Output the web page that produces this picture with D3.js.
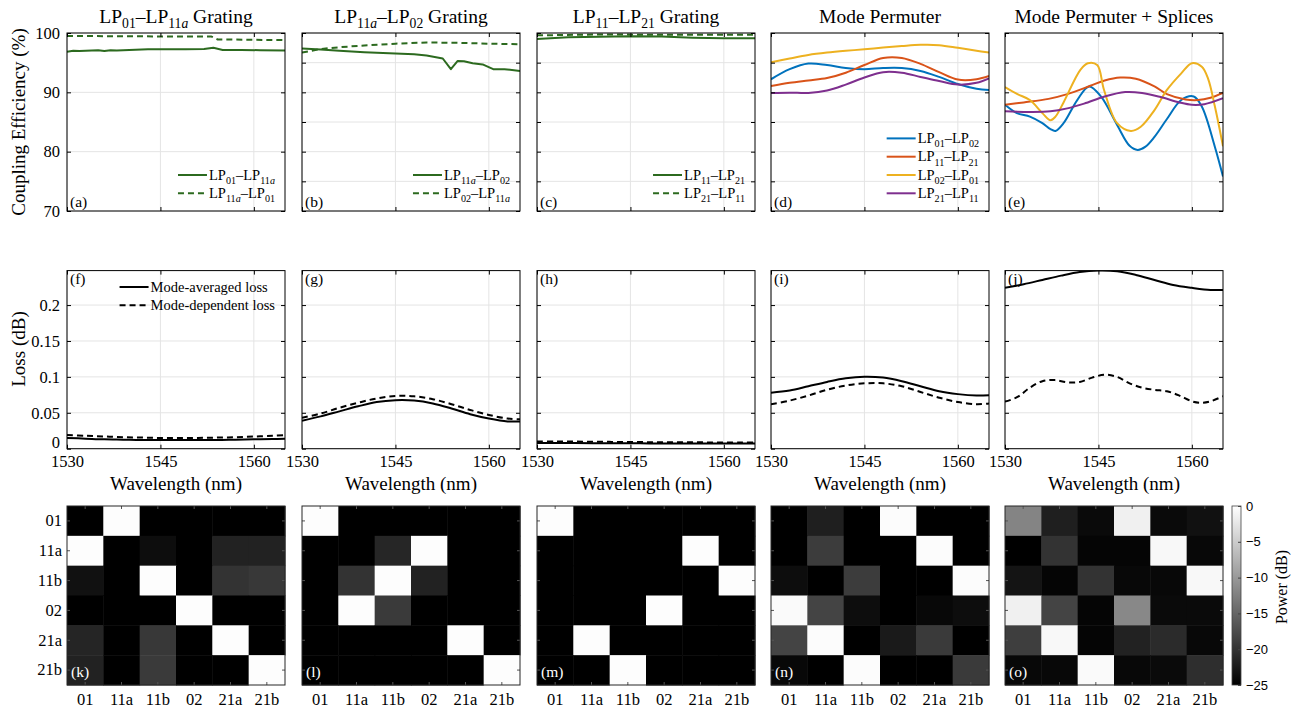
<!DOCTYPE html>
<html>
<head>
<meta charset="utf-8">
<script src="https://cdn.jsdelivr.net/npm/d3@7"></script>
<style>body{margin:0;background:#fff}</style>
</head>
<body>
<svg id="fig" width="1296" height="708"></svg>
<script>
// ---- data: coupling efficiency (%) ----
const aWlFwd = [1530, 1531, 1532, 1534, 1535, 1536, 1537, 1538, 1540, 1543, 1546, 1549, 1552, 1553.5, 1555, 1558, 1561, 1565];
const aFwd   = [96.85, 97.0, 96.95, 97.05, 97.1, 96.95, 97.1, 97.05, 97.15, 97.25, 97.25, 97.25, 97.3, 97.5, 97.15, 97.15, 97.1, 97.05];
const aWlBwd = [1530, 1540, 1550, 1553.2, 1554.2, 1556, 1560, 1565];
const aBwd   = [99.5, 99.45, 99.4, 99.4, 98.9, 98.9, 98.85, 98.8];

const bWlFwd = [1530, 1533, 1536, 1540, 1545, 1548, 1550, 1552.6, 1553.9, 1555, 1556, 1557.4, 1559, 1560.7, 1562.5, 1565];
const bFwd   = [97.4, 97.2, 97.0, 96.75, 96.55, 96.4, 96.2, 95.7, 93.9, 95.3, 95.25, 94.9, 94.7, 93.9, 93.9, 93.6];
const bWlBwd = [1530, 1533, 1536, 1540, 1545, 1550, 1555, 1560, 1565];
const bBwd   = [96.7, 97.3, 97.6, 97.9, 98.2, 98.4, 98.35, 98.2, 98.1];

const cWlFwd = [1530, 1535, 1545, 1550, 1555, 1560, 1565];
const cFwd   = [99.0, 99.3, 99.45, 99.4, 99.2, 99.1, 99.1];
const cWlBwd = [1530, 1540, 1550, 1565];
const cBwd   = [99.6, 99.75, 99.7, 99.7];

const dWl     = [1530, 1533, 1536, 1539, 1542, 1545, 1548, 1551, 1554, 1557, 1560, 1563, 1565];
const dLP0102 = [92.2, 93.9, 94.85, 94.6, 94.1, 93.9, 94.1, 94.1, 93.6, 92.6, 91.4, 90.6, 90.4];
const dLP1121 = [91.06, 91.6, 92.0, 92.4, 93.3, 94.6, 95.8, 95.8, 94.8, 93.4, 92.15, 92.2, 92.75];
const dLP0201 = [95.05, 95.7, 96.3, 96.7, 97.0, 97.25, 97.55, 97.8, 98.0, 97.95, 97.5, 97.0, 96.7];
const dLP2111 = [89.9, 89.95, 89.9, 90.3, 91.3, 92.5, 93.4, 93.3, 92.6, 91.9, 91.3, 91.6, 92.36];

const eWlLP0102 = [1530, 1531.9, 1534, 1536, 1537.3, 1538.1, 1539.4, 1541.6, 1543.5, 1545.4, 1548, 1550, 1551.3, 1552.5, 1554, 1556, 1558.3, 1560.3, 1561.6, 1563.7, 1565];
const eLP0102   = [87.9, 86.5, 85.9, 84.8, 83.8, 83.5, 84.8, 88.7, 91.0, 89.3, 84.5, 81.0, 80.3, 80.8, 82.5, 85.5, 88.7, 89.3, 87.6, 80.8, 75.8];
const eWlLP1121 = [1530, 1533, 1537, 1540, 1543.7, 1546, 1548.5, 1551, 1554, 1556, 1559, 1561, 1563, 1565];
const eLP1121   = [87.9, 88.3, 88.9, 89.7, 91.1, 92.0, 92.5, 92.3, 91.0, 89.7, 88.8, 88.7, 89.1, 89.9];
const eWlLP0201 = [1530, 1532, 1534, 1536, 1537.3, 1538.1, 1539.4, 1542.1, 1543.3, 1544.8, 1545.9, 1548, 1550.2, 1551.8, 1554, 1556, 1558.3, 1560, 1561.6, 1562.6, 1563.7, 1565];
const eLP0201   = [90.9, 89.7, 88.7, 86.5, 85.3, 85.9, 88.3, 93.8, 94.9, 94.6, 90.4, 84.8, 83.5, 84.2, 87.0, 90.4, 93.2, 94.9, 94.3, 92.3, 87.6, 80.9];
const eWlLP2111 = [1530, 1534, 1537.3, 1540, 1542.7, 1546, 1549.3, 1552, 1555, 1558, 1560, 1562, 1565];
const eLP2111   = [86.8, 86.7, 86.8, 87.3, 88.1, 89.3, 90.05, 89.9, 89.2, 88.3, 87.9, 88.0, 89.0];

// ---- data: loss (dB) ----
const lossWl = [1530, 1533, 1536, 1539, 1542, 1545, 1548, 1551, 1554, 1557, 1560, 1563, 1565];
const fMAL = [0.015, 0.014, 0.013, 0.0125, 0.012, 0.012, 0.012, 0.012, 0.012, 0.0125, 0.013, 0.0135, 0.014];
const fMDL = [0.019, 0.018, 0.017, 0.016, 0.0155, 0.015, 0.015, 0.015, 0.0155, 0.016, 0.017, 0.018, 0.019];
const gMAL = [0.039, 0.045, 0.052, 0.059, 0.065, 0.0675, 0.067, 0.063, 0.056, 0.048, 0.042, 0.038, 0.038];
const gMDL = [0.043, 0.049, 0.057, 0.064, 0.07, 0.0735, 0.073, 0.069, 0.062, 0.054, 0.047, 0.042, 0.041];
const hMAL = [0.008, 0.0079, 0.0078, 0.0077, 0.0076, 0.0075, 0.0074, 0.0073, 0.0072, 0.0072, 0.0071, 0.0071, 0.0071];
const hMDL = [0.0102, 0.0101, 0.0099, 0.0097, 0.0095, 0.0093, 0.0091, 0.009, 0.0089, 0.0088, 0.0087, 0.0087, 0.0087];
const iMAL = [0.078, 0.081, 0.087, 0.093, 0.098, 0.1002, 0.099, 0.094, 0.087, 0.08, 0.076, 0.074, 0.0745];
const iMDL = [0.062, 0.067, 0.074, 0.082, 0.088, 0.091, 0.091, 0.087, 0.079, 0.071, 0.065, 0.062, 0.063];
const jMAL = [0.224, 0.229, 0.235, 0.241, 0.246, 0.248, 0.247, 0.242, 0.235, 0.228, 0.224, 0.221, 0.221];
const jWlMDL = [1530, 1532, 1534, 1536, 1538, 1540, 1542, 1544, 1546, 1548, 1550, 1552, 1554, 1556, 1558, 1560, 1561.5, 1563, 1565];
const jMDL   = [0.0655, 0.072, 0.085, 0.094, 0.0955, 0.0925, 0.093, 0.099, 0.103, 0.1, 0.091, 0.085, 0.082, 0.08, 0.074, 0.066, 0.064, 0.066, 0.073];

// ---- data: power matrices (dB), rows = output mode, cols = input mode ----
const modes = ['01', '11a', '11b', '02', '21a', '21b'];
const mapK = [
  [-25, -0.2, -25, -25, -25, -25],
  [-0.2, -25, -23.7, -25, -21.7, -21.7],
  [-23.3, -25, -0.2, -25, -20, -19.5],
  [-25, -25, -25, -0.2, -25, -25],
  [-21.4, -25, -19.5, -25, -0.2, -25],
  [-21.7, -25, -19.3, -25, -25, -0.2]
];
const mapL = [
  [-0.2, -25, -25, -25, -25, -25],
  [-25, -25, -21.3, -0.2, -25, -25],
  [-25, -20, -0.2, -21.7, -25, -25],
  [-25, -0.2, -19.3, -25, -25, -25],
  [-25, -25, -25, -25, -0.2, -25],
  [-25, -25, -25, -25, -25, -0.2]
];
const mapM = [
  [-0.2, -25, -25, -25, -25, -25],
  [-25, -25, -25, -25, -0.2, -25],
  [-25, -25, -25, -25, -25, -0.2],
  [-25, -25, -25, -0.2, -25, -25],
  [-25, -0.2, -25, -25, -25, -25],
  [-25, -25, -0.2, -25, -25, -25]
];
const mapN = [
  [-25, -22, -25, -0.3, -25, -25],
  [-25, -19.1, -25, -25, -0.3, -25],
  [-23.7, -25, -19.1, -25, -25, -0.3],
  [-0.5, -18.3, -23.7, -25, -24.2, -23.7],
  [-18.3, -0.3, -25, -22.5, -19.3, -25],
  [-24.2, -25, -0.3, -25, -25, -19.3]
];
const mapO = [
  [-12.1, -22, -24, -1.5, -24, -23.3],
  [-25, -20, -24.5, -24.5, -0.7, -24.2],
  [-23, -24.5, -20, -24.2, -24.2, -0.7],
  [-1.5, -18.3, -24.5, -11.7, -24, -24],
  [-18.9, -0.7, -24.5, -21.7, -20.8, -24.2],
  [-24.2, -24.2, -0.5, -24.2, -24, -20.5]
];
const powerTicks = [0, -5, -10, -15, -20, -25];

// ---- labels ----
const ceTitles = ['LP_01–LP_11a Grating', 'LP_11a–LP_02 Grating', 'LP_11–LP_21 Grating', 'Mode Permuter', 'Mode Permuter + Splices'];
const gratingLegends = [
  ['LP_01–LP_11a', 'LP_11a–LP_01'],
  ['LP_11a–LP_02', 'LP_02–LP_11a'],
  ['LP_11–LP_21', 'LP_21–LP_11']
];
const permLegend = ['LP_01–LP_02', 'LP_11–LP_21', 'LP_02–LP_01', 'LP_21–LP_11'];
const lossLegend = ['Mode-averaged loss', 'Mode-dependent loss'];
const wlTicks = [1530, 1545, 1560];
const ceTicksA = [70, 80, 90, 100];
const ceTicks = [70, 75, 80, 85, 90, 95, 100];
const lossTicks = [0, 0.05, 0.1, 0.15, 0.2];

// ---- layout ----
const serif = '"Liberation Serif", "DejaVu Serif", serif';
const sans = '"Liberation Sans", Arial, sans-serif';
const colLeft = [67, 302, 537, 771, 1005];
const pw = 218;
const ceTop = 33, ceH = 178;
const lossTop = 270.6, lossH = 178.1;
const mapTop = 506, mapH = 179;
const green = '#2c6a1f';
const mColors = ['#0072BD', '#D95319', '#EDB120', '#7E2F8E'];
const dashes = '6,4';

const svg = d3.select('#fig');

function rich(sel, str, size) {
  const parts = str.split(/_([0-9a-z]+)/);
  const shift = size * 0.28;
  let low = false;
  parts.forEach((p, i) => {
    if (!p) return;
    if (i % 2 === 1) {
      p.match(/[0-9]+|[a-z]+/g).forEach((c, j) => {
        const t = sel.append('tspan').attr('font-size', size * 0.7).text(c);
        if (j === 0 && !low) t.attr('dy', shift);
        if (/[a-z]/.test(c)) t.attr('font-style', 'italic');
      });
      low = true;
    } else {
      const t = sel.append('tspan').text(p);
      if (low) t.attr('dy', -shift);
      low = false;
    }
  });
  return sel;
}

function frame(g, x, y, xt, yt, o) {
  const [x0, x1] = x.range(), [y1, y0] = y.range();
  const w = x1 - x0, h = y1 - y0;
  // grid
  g.append('g').selectAll('line').data(xt).join('line')
    .attr('x1', d => x(d)).attr('x2', d => x(d)).attr('y1', y0).attr('y2', y1)
    .attr('stroke', '#e4e4e4').attr('stroke-width', 1);
  g.append('g').selectAll('line').data(yt).join('line')
    .attr('x1', x0).attr('x2', x1).attr('y1', d => y(d)).attr('y2', d => y(d))
    .attr('stroke', '#e4e4e4').attr('stroke-width', 1);
  const data = g.append('g').attr('clip-path', `url(#${o.clip})`);
  g.append('clipPath').attr('id', o.clip).append('rect')
    .attr('x', x0).attr('y', y0).attr('width', w).attr('height', h);
  return {data, w, h, x0, y0, x1, y1};
}

function axesOnTop(g, x, y, xt, yt, o) {
  const [x0, x1] = x.range(), [y1, y0] = y.range();
  const style = s => s.call(a => a.select('.domain').remove())
    .attr('font-family', serif).attr('font-size', 16.5)
    .call(a => a.selectAll('line').attr('stroke', '#000'))
    .call(a => a.selectAll('text').attr('fill', '#000'));
  g.append('g').attr('transform', `translate(0,${y1})`)
    .call(d3.axisBottom(x).tickValues(xt).tickSizeInner(-4).tickSizeOuter(0).tickPadding(7)
      .tickFormat(o.xLabels ? d3.format('d') : ''))
    .call(style);
  g.append('g').attr('transform', `translate(0,${y0})`)
    .call(d3.axisTop(x).tickValues(xt).tickSizeInner(-4).tickSizeOuter(0).tickFormat(''))
    .call(style);
  const left = g.append('g').attr('transform', `translate(${x0},0)`)
    .call(d3.axisLeft(y).tickValues(yt).tickSizeInner(-4).tickSizeOuter(0).tickPadding(7)
      .tickFormat(o.yLabels ? o.yFormat : ''))
    .call(style);
  // lift the bottom label a little so it clears the x tick labels
  if (o.liftZero) left.selectAll('.tick').filter(d => d === 0).select('text').attr('dy', '-0.05em');
  g.append('g').attr('transform', `translate(${x1},0)`)
    .call(d3.axisRight(y).tickValues(yt).tickSizeInner(-4).tickSizeOuter(0).tickFormat(''))
    .call(style);
  g.append('rect').attr('x', x0).attr('y', y0).attr('width', x1 - x0).attr('height', y1 - y0)
    .attr('fill', 'none').attr('stroke', '#000').attr('stroke-width', 1);
}

function legend(g, right, yBottom, items, size) {
  const step = 18.3;
  const n = items.length;
  const texts = items.map((it, i) => rich(g.append('text')
    .attr('font-family', serif).attr('font-size', size)
    .attr('y', yBottom - (n - 1 - i) * step + size * 0.33), it.label, size));
  const maxW = d3.max(texts, t => t.node().getComputedTextLength());
  const tx = right - 10 - maxW;
  texts.forEach(t => t.attr('x', tx));
  items.forEach((it, i) => {
    const yy = yBottom - (n - 1 - i) * step;
    g.append('line').attr('x1', tx - 31).attr('x2', tx - 2).attr('y1', yy).attr('y2', yy)
      .attr('stroke', it.color).attr('stroke-width', 2)
      .attr('stroke-dasharray', it.dash ? dashes : null);
  });
}

function drawSeries(target, x, y, s) {
  const line = d3.line().x((d, i) => x(s.wl[i])).y(d => y(d))
    .curve(s.smooth ? d3.curveCatmullRom.alpha(0.5) : d3.curveLinear);
  target.append('path').datum(s.val).attr('d', line)
    .attr('fill', 'none').attr('stroke', s.color).attr('stroke-width', 2)
    .attr('stroke-linejoin', 'round')
    .attr('stroke-dasharray', s.dash ? dashes : null);
}

function letter(g, x, y, txt, color) {
  g.append('text').attr('x', x).attr('y', y).attr('font-family', serif)
    .attr('font-size', 15.5).attr('fill', color || '#000').text(txt);
}

// ---- row 1: coupling efficiency ----
const ceSeries = [
  [{wl: aWlFwd, val: aFwd, color: green}, {wl: aWlBwd, val: aBwd, color: green, dash: true}],
  [{wl: bWlFwd, val: bFwd, color: green}, {wl: bWlBwd, val: bBwd, color: green, dash: true}],
  [{wl: cWlFwd, val: cFwd, color: green}, {wl: cWlBwd, val: cBwd, color: green, dash: true}],
  [dLP0102, dLP1121, dLP0201, dLP2111].map((v, k) => ({wl: dWl, val: v, color: mColors[k], smooth: true})),
  [[eWlLP0102, eLP0102], [eWlLP1121, eLP1121], [eWlLP0201, eLP0201], [eWlLP2111, eLP2111]]
    .map((p, k) => ({wl: p[0], val: p[1], color: mColors[k], smooth: true}))
];

ceSeries.forEach((series, c) => {
  const g = svg.append('g');
  const x = d3.scaleLinear().domain([1530, 1565]).range([colLeft[c], colLeft[c] + pw]);
  const y = d3.scaleLinear().domain([70, 100]).range([ceTop + ceH, ceTop]);
  const yt = c === 0 ? ceTicksA : ceTicks;
  const f = frame(g, x, y, wlTicks, yt, {clip: 'ce' + c});
  series.forEach(s => drawSeries(f.data, x, y, s));
  axesOnTop(g, x, y, wlTicks, yt, {xLabels: false, yLabels: c === 0, yFormat: d3.format('d')});
  rich(g.append('text').attr('x', colLeft[c] + pw / 2).attr('y', 23).attr('text-anchor', 'middle')
    .attr('font-family', serif).attr('font-size', 19.5), ceTitles[c], 19.5);
  letter(g, colLeft[c] + 3, ceTop + ceH - 4, '(' + 'abcde'[c] + ')');
  if (c < 3) {
    legend(g, colLeft[c] + pw, 193.3,
      gratingLegends[c].map((l, k) => ({label: l, color: green, dash: k === 1})), 14.5);
  } else if (c === 3) {
    legend(g, colLeft[c] + pw, 193.3,
      permLegend.map((l, k) => ({label: l, color: mColors[k]})), 14.5);
  }
});

svg.append('text').attr('transform', `translate(25,${ceTop + ceH / 2}) rotate(-90)`)
  .attr('text-anchor', 'middle').attr('font-family', serif).attr('font-size', 19)
  .text('Coupling Efficiency (%)');

// ---- row 2: loss ----
const lossSeries = [
  [fMAL, fMDL], [gMAL, gMDL], [hMAL, hMDL], [iMAL, iMDL], [jMAL, jMDL]
];
lossSeries.forEach((pair, c) => {
  const g = svg.append('g');
  const x = d3.scaleLinear().domain([1530, 1565]).range([colLeft[c], colLeft[c] + pw]);
  const y = d3.scaleLinear().domain([0, 0.248]).range([lossTop + lossH, lossTop]);
  const f = frame(g, x, y, wlTicks, lossTicks, {clip: 'loss' + c});
  drawSeries(f.data, x, y, {wl: lossWl, val: pair[0], color: '#000', smooth: true});
  drawSeries(f.data, x, y, {wl: c === 4 ? jWlMDL : lossWl, val: pair[1], color: '#000', smooth: true, dash: true});
  axesOnTop(g, x, y, wlTicks, lossTicks, {xLabels: true, yLabels: c === 0, liftZero: true,
    yFormat: d => String(+d.toFixed(2))});
  letter(g, colLeft[c] + 3, lossTop + 13, '(' + 'fghij'[c] + ')');
  g.append('text').attr('x', colLeft[c] + pw / 2).attr('y', 490).attr('text-anchor', 'middle')
    .attr('font-family', serif).attr('font-size', 19).text('Wavelength (nm)');
  if (c === 0) {
    legend(g, colLeft[c] + pw, lossTop + 34.7,
      lossLegend.map((l, k) => ({label: l, color: '#000', dash: k === 1})), 14.5);
  }
});

svg.append('text').attr('transform', `translate(25,349) rotate(-90)`)
  .attr('text-anchor', 'middle').attr('font-family', serif).attr('font-size', 19)
  .text('Loss (dB)');

// ---- row 3: power matrices ----
const gray = d3.scaleLinear().domain([-25, 0]).range(['#000', '#fff']).clamp(true);
[mapK, mapL, mapM, mapN, mapO].forEach((m, c) => {
  const g = svg.append('g');
  const x = d3.scaleBand().domain(modes).range([colLeft[c], colLeft[c] + pw]);
  const y = d3.scaleBand().domain(modes).range([mapTop, mapTop + mapH]);
  const cells = m.flatMap((row, r) => row.map((v, k) => ({r: modes[r], c: modes[k], v})));
  g.selectAll('rect.cell').data(cells).join('rect').attr('class', 'cell')
    .attr('x', d => x(d.c)).attr('y', d => y(d.r))
    .attr('width', x.bandwidth() + 0.5).attr('height', y.bandwidth() + 0.5)
    .attr('fill', d => gray(d.v));
  const ax = d3.axisBottom(x).tickSizeInner(-3).tickSizeOuter(0).tickPadding(8);
  g.append('g').attr('transform', `translate(0,${mapTop + mapH})`).call(ax)
    .call(a => a.select('.domain').remove())
    .attr('font-family', serif).attr('font-size', 16.5)
    .call(a => a.selectAll('line').attr('stroke', '#555'))
    .call(a => a.selectAll('text').attr('fill', '#000'));
  g.append('g').attr('transform', `translate(0,${mapTop})`)
    .call(d3.axisTop(x).tickSizeInner(-3).tickSizeOuter(0).tickFormat(''))
    .call(a => a.select('.domain').remove())
    .call(a => a.selectAll('line').attr('stroke', '#555'));
  g.append('g').attr('transform', `translate(${colLeft[c]},0)`)
    .call(d3.axisLeft(y).tickSizeInner(-3).tickSizeOuter(0).tickPadding(5).tickFormat(c === 0 ? null : ''))
    .call(a => a.select('.domain').remove())
    .attr('font-family', serif).attr('font-size', 16.5)
    .call(a => a.selectAll('line').attr('stroke', '#555'))
    .call(a => a.selectAll('text').attr('fill', '#000'));
  g.append('g').attr('transform', `translate(${colLeft[c] + pw},0)`)
    .call(d3.axisRight(y).tickSizeInner(-3).tickSizeOuter(0).tickFormat(''))
    .call(a => a.select('.domain').remove())
    .call(a => a.selectAll('line').attr('stroke', '#555'));
  g.append('rect').attr('x', colLeft[c]).attr('y', mapTop).attr('width', pw).attr('height', mapH)
    .attr('fill', 'none').attr('stroke', '#262626').attr('stroke-width', 1);
  letter(g, colLeft[c] + 4, mapTop + mapH - 8, '(' + 'klmno'[c] + ')', '#fff');
});

// colour bar
const cbX = 1232, cbW = 9;
const cb = d3.scaleLinear().domain([-25, 0]).range([mapTop + mapH, mapTop]);
const grad = svg.append('defs').append('linearGradient').attr('id', 'cbgrad')
  .attr('x1', 0).attr('x2', 0).attr('y1', 1).attr('y2', 0);
grad.append('stop').attr('offset', 0).attr('stop-color', gray(-25));
grad.append('stop').attr('offset', 1).attr('stop-color', gray(0));
svg.append('rect').attr('x', cbX).attr('y', mapTop).attr('width', cbW).attr('height', mapH)
  .attr('fill', 'url(#cbgrad)').attr('stroke', '#444').attr('stroke-width', 0.8);
svg.append('g').attr('transform', `translate(${cbX + cbW},0)`)
  .call(d3.axisRight(cb).tickValues(powerTicks).tickSizeInner(-3).tickSizeOuter(0).tickPadding(5))
  .call(a => a.select('.domain').remove())
  .attr('font-family', sans).attr('font-size', 13)
  .call(a => a.selectAll('line').attr('stroke', '#444'))
  .call(a => a.selectAll('text').attr('fill', '#000'));
svg.append('text').attr('transform', `translate(1287,587) rotate(-90)`)
  .attr('text-anchor', 'middle').attr('font-family', serif).attr('font-size', 16)
  .text('Power (dB)');
</script>
</body>
</html>
